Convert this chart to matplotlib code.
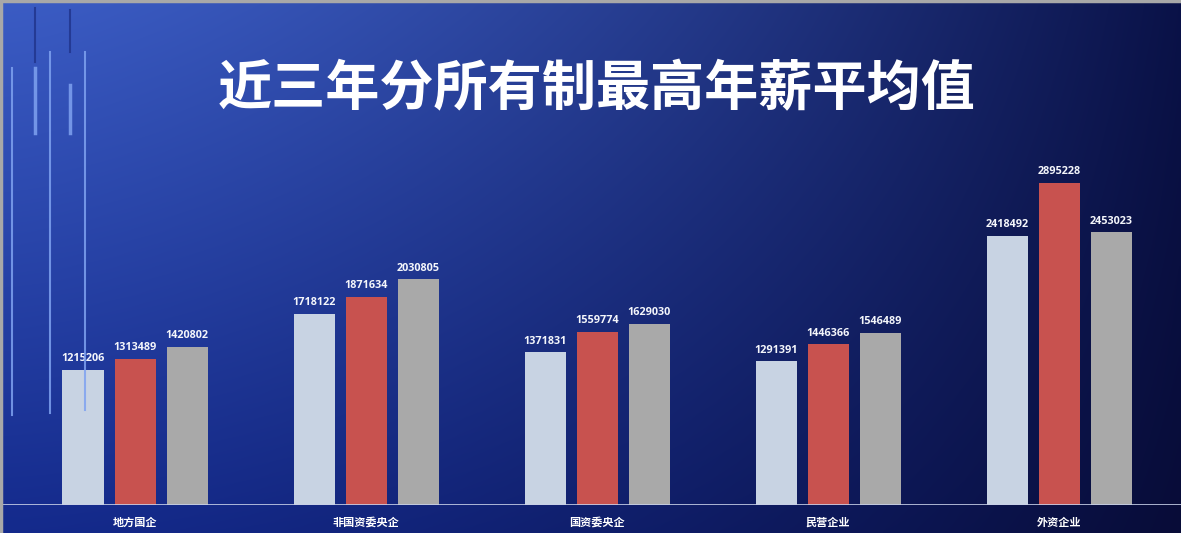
import numpy as np
import matplotlib
matplotlib.use("Agg")
import matplotlib.pyplot as plt
from matplotlib.lines import Line2D
from matplotlib.colors import to_rgb

plt.rcParams['font.family'] = ['Noto Sans CJK SC', 'DejaVu Sans']

# 数据
categories = ["地方国企", "非国资委央企", "国资委央企", "民营企业", "外资企业"]
year_1 = [1215206, 1718122, 1371831, 1291391, 2418492]
year_2 = [1313489, 1871634, 1559774, 1446366, 2895228]
year_3 = [1420802, 2030805, 1629030, 1546489, 2453023]
bar_colors = ["#c8d3e3", "#c8524f", "#a9a9a9"]
title = "近三年分所有制最高年薪平均值"

W, H = 1181, 533
fig = plt.figure(figsize=(W / 100, H / 100), dpi=100)

# 背景渐变
ax_bg = fig.add_axes([0, 0, 1, 1])
ax_bg.set_axis_off()
tl, tr = np.array(to_rgb("#3b5cc4")), np.array(to_rgb("#0a1248"))
bl, br = np.array(to_rgb("#142a8c")), np.array(to_rgb("#080c38"))
xs = np.linspace(0, 1, 300) ** 1.4
ys = np.linspace(0, 1, 140)
left = tl[None, :] * (1 - ys[:, None]) + bl[None, :] * ys[:, None]
right = tr[None, :] * (1 - ys[:, None]) + br[None, :] * ys[:, None]
grad = left[:, None, :] * (1 - xs[None, :, None]) + right[:, None, :] * xs[None, :, None]
ax_bg.imshow(grad, aspect="auto", extent=[0, 1, 0, 1], interpolation="bilinear")
ax_bg.set_xlim(0, 1)
ax_bg.set_ylim(0, 1)

# 左上角装饰线
deco = [(12, 68, 415, 1.5), (35, 68, 133, 2.5), (50, 52, 413, 1.5),
        (70, 85, 133, 2.5), (85, 52, 410, 1.5)]
for x, y0, y1, lw in deco:
    fig.add_artist(Line2D([x / W, x / W], [1 - y0 / H, 1 - y1 / H],
                          color="#7fa2f0", lw=lw, alpha=0.85))
for x, y0, y1 in [(35, 8, 62), (70, 10, 52)]:
    fig.add_artist(Line2D([x / W, x / W], [1 - y0 / H, 1 - y1 / H],
                          color="#243a94", lw=1.5))

# 边框
fig.add_artist(Line2D([0, 1], [1 - 1 / H, 1 - 1 / H], color="#a8a8a8", lw=2.5))
fig.add_artist(Line2D([1 / W, 1 / W], [0, 1], color="#a8a8a8", lw=2.5))

# 柱状图
base = 505
ax = fig.add_axes([0, (H - base) / H, 1, base / H])
ax.patch.set_alpha(0)
x = np.arange(len(categories))
width = 41 / 231
offset = 52 / 231
series = [year_1, year_2, year_3]
for k, vals in enumerate(series):
    pos = x + (k - 1) * offset
    bars = ax.bar(pos, vals, width=width, color=bar_colors[k], zorder=3)
    for b, v in zip(bars, vals):
        ax.annotate(str(v), (b.get_x() + b.get_width() / 2, v),
                    xytext=(0, 4), textcoords="offset points",
                    ha="center", va="bottom", color="#f4f6fb",
                    fontsize=7.8, fontweight="bold",
                    family=["Open Sans", "DejaVu Sans"])

ax.set_xlim(-135 / 231, (W - 135) / 231)
ax.set_ylim(0, max(year_2) * base / 322)
ax.axhline(0, color="#c8d0e8", lw=1.2, zorder=4)
ax.set_xticks(x)
ax.set_xticklabels(categories, color="white", fontsize=8, fontweight="bold")
ax.tick_params(axis="x", length=0, pad=8)
ax.set_yticks([])
for s in ax.spines.values():
    s.set_visible(False)

# 标题
fig.text(596.5 / W, 1 - 90 / H, title, ha="center", va="center",
         color="white", fontsize=39, fontweight="bold")

fig.savefig("out.png", dpi=100)
